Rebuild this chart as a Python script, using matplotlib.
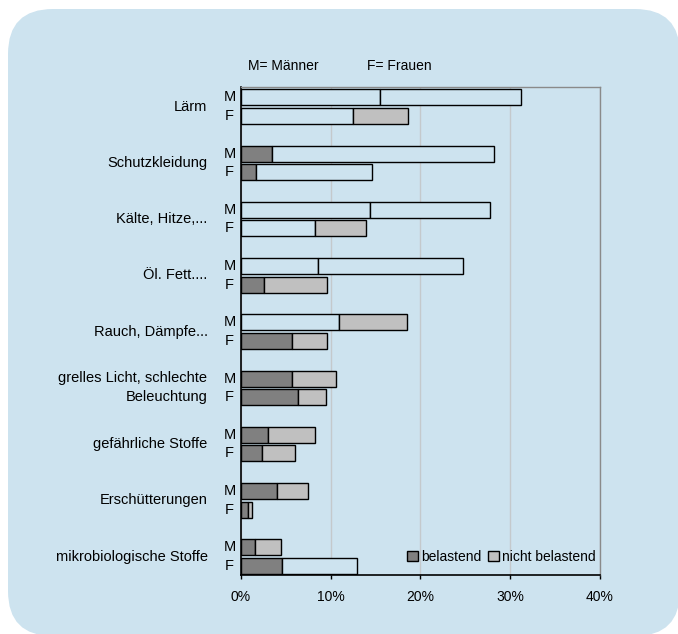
import matplotlib.pyplot as plt
import matplotlib.transforms as mtransforms
from matplotlib.patches import FancyBboxPatch, Patch

plt.rcParams['font.family'] = ['Liberation Sans', 'DejaVu Sans']

# categories from top to bottom
categories = ['Lärm', 'Schutzkleidung', 'Kälte, Hitze,...', 'Öl. Fett....',
              'Rauch, Dämpfe...', 'grelles Licht, schlechte\nBeleuchtung',
              'gefährliche Stoffe', 'Erschütterungen', 'mikrobiologische Stoffe']

# shares in percent: belastend / nicht belastend
men_bel = [15.5, 3.5, 14.4, 8.6, 10.9, 5.7, 3.0, 4.0, 1.6]
men_nicht = [15.7, 24.7, 13.4, 16.2, 7.6, 4.9, 5.3, 3.5, 2.9]
women_bel = [12.5, 1.7, 8.3, 2.6, 5.7, 6.4, 2.4, 0.8, 4.6]
women_nicht = [6.1, 12.9, 5.6, 7.0, 3.9, 3.1, 3.6, 0.5, 8.4]

xticks = [0, 10, 20, 30, 40]
xticklabels = ['0%', '10%', '20%', '30%', '40%']

# segments drawn without fill (background shows through)
hollow_men_bel = [True, False, True, True, True, False, False, False, False]
hollow_men_nicht = [True, True, True, True, False, False, False, False, False]
hollow_women_bel = [True, False, True, False, False, False, False, False, False]
hollow_women_nicht = [False, True, False, False, False, False, False, False, True]

bg = '#cde3ef'
dark = '#808080'
light = '#c0c0c0'

W, H = 678, 634
fig = plt.figure(figsize=(W / 100, H / 100), dpi=100)
fig.patch.set_facecolor('white')

# rounded panel behind the chart
pan = fig.add_axes([0, 0, 1, 1])
pan.set_xlim(0, W)
pan.set_ylim(H, 0)
pan.axis('off')
pan.add_patch(FancyBboxPatch((8, 9), W + 2 - 8, H + 2 - 9,
                             boxstyle='round,pad=0,rounding_size=45',
                             facecolor=bg, edgecolor='none'))

# plot area in pixels
left, right, top, bottom = 240.7, 600, 87, 575
ax = fig.add_axes([left / W, (H - bottom) / H, (right - left) / W, (bottom - top) / H])
ax.set_facecolor(bg)

h = 0.284
off = 0.329
ym = list(range(len(categories)))
yf = [y + off for y in ym]


def colors(hollow, fill):
    return [bg if hh else fill for hh in hollow]


kw = dict(height=h, edgecolor='black', linewidth=1.0, zorder=3)
ax.barh(ym, men_bel, color=colors(hollow_men_bel, dark), **kw)
ax.barh(ym, men_nicht, left=men_bel, color=colors(hollow_men_nicht, light), **kw)
ax.barh(yf, women_bel, color=colors(hollow_women_bel, dark), **kw)
ax.barh(yf, women_nicht, left=women_bel, color=colors(hollow_women_nicht, light), **kw)

ax.set_xlim(0, 40)
ax.set_ylim(8.489, -0.183)
ax.set_xticks(xticks)
ax.set_xticklabels(xticklabels, fontsize=10)
ax.tick_params(axis='x', direction='out', length=3, width=1, pad=8)
ax.set_yticks([])
ax.grid(axis='x', color='#c4c9cc', linewidth=1, zorder=0)
ax.set_axisbelow(True)

for side in ['left', 'bottom']:
    ax.spines[side].set_color('black')
    ax.spines[side].set_linewidth(1.2)
for side in ['top', 'right']:
    ax.spines[side].set_color('#8a8a8a')
    ax.spines[side].set_linewidth(1.0)

# category and M/F labels left of the axis
tr = mtransforms.blended_transform_factory(fig.transFigure, ax.transData)
for i, cat in enumerate(categories):
    ax.text(207.5 / W, ym[i] + off / 2, cat, transform=tr, ha='right', va='center',
            fontsize=10.5, linespacing=1.45)
    ax.text(229.5 / W, ym[i], 'M', transform=tr, ha='center', va='center', fontsize=10.5)
    ax.text(229.5 / W, yf[i], 'F', transform=tr, ha='center', va='center', fontsize=10.5)

fig.text(248 / W, 1 - 66 / H, 'M= Männer', ha='left', va='center', fontsize=10)
fig.text(367 / W, 1 - 66 / H, 'F= Frauen', ha='left', va='center', fontsize=10)

handles = [Patch(facecolor=dark, edgecolor='black', linewidth=1.0, label='belastend'),
           Patch(facecolor=light, edgecolor='black', linewidth=1.0, label='nicht belastend')]
fig.legend(handles=handles, loc='center right', bbox_to_anchor=(596 / W, 1 - 557 / H),
           ncol=2, frameon=False, fontsize=10, handlelength=0.75, handleheight=0.75,
           handletextpad=0.25, columnspacing=0.5, borderpad=0, borderaxespad=0)

fig.savefig('out.png', dpi=100)
